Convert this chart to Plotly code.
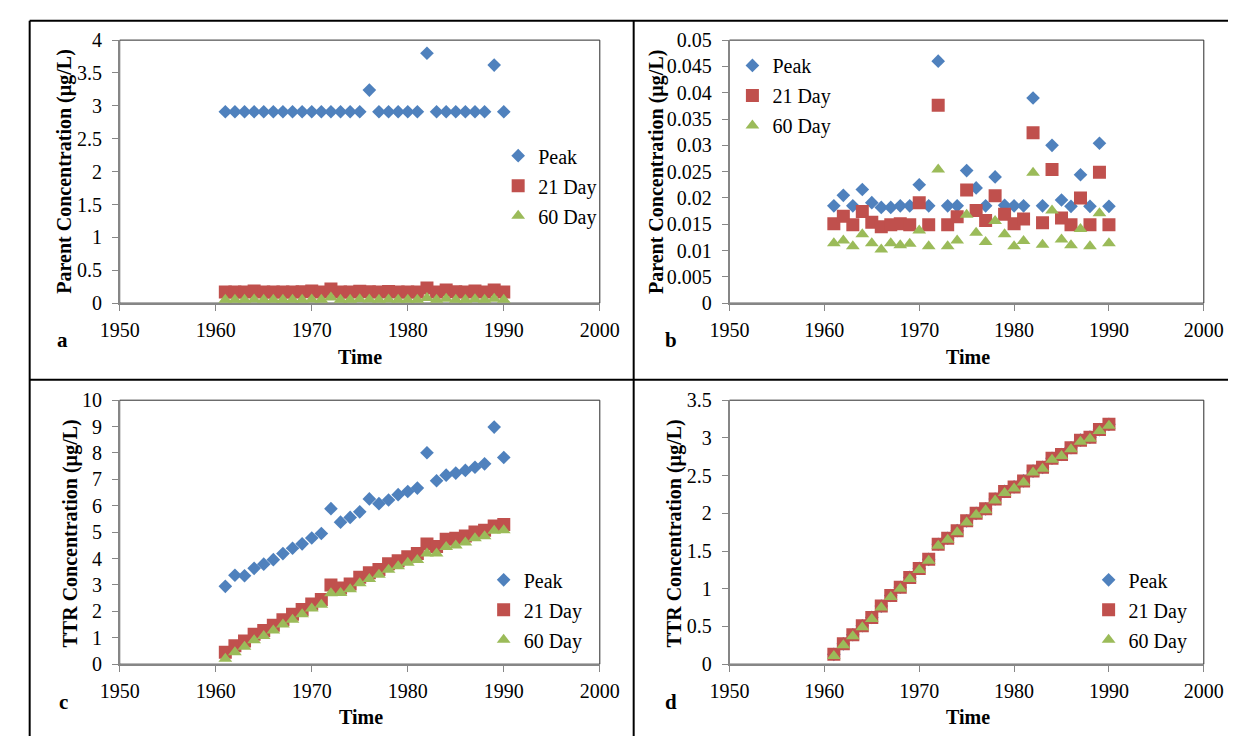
import plotly.graph_objects as go

# ---------------- data ----------------
years = list(range(1961, 1991))

# panel a: parent concentration (ug/L)
a_peak = [2.91, 2.91, 2.91, 2.91, 2.91, 2.91, 2.91, 2.91, 2.91, 2.91,
          2.91, 2.91, 2.91, 2.91, 2.91, 3.24, 2.91, 2.91, 2.91, 2.91,
          2.91, 3.80, 2.91, 2.91, 2.91, 2.91, 2.91, 2.91, 3.62, 2.91]
a_21 = [0.17, 0.17, 0.17, 0.185, 0.17, 0.17, 0.17, 0.17, 0.175, 0.185,
        0.17, 0.215, 0.17, 0.17, 0.18, 0.175, 0.17, 0.178, 0.17, 0.17,
        0.17, 0.23, 0.17, 0.20, 0.175, 0.17, 0.185, 0.17, 0.20, 0.17]
a_60 = [0.05, 0.05, 0.05, 0.055, 0.05, 0.05, 0.05, 0.05, 0.05, 0.055,
        0.05, 0.085, 0.05, 0.05, 0.06, 0.055, 0.05, 0.055, 0.05, 0.05,
        0.05, 0.08, 0.05, 0.065, 0.05, 0.05, 0.058, 0.05, 0.065, 0.05]

# panel b: parent concentration (ug/L)
b_peak = [0.0185, 0.0205, 0.0185, 0.0216, 0.0191, 0.0182, 0.0182, 0.0185, 0.0185, 0.0225,
          0.0185, 0.0460, 0.0185, 0.0185, 0.0252, 0.0219, 0.0185, 0.0240, 0.0186, 0.0185,
          0.0185, 0.0390, 0.0185, 0.0300, 0.0196, 0.0184, 0.0244, 0.0184, 0.0304, 0.0184]
b_21 = [0.0151, 0.0165, 0.0149, 0.0174, 0.0154, 0.0145, 0.0149, 0.0151, 0.0149, 0.0191,
        0.0149, 0.0376, 0.0149, 0.0164, 0.0215, 0.0176, 0.0157, 0.0204, 0.0169, 0.0151,
        0.0160, 0.0324, 0.0153, 0.0254, 0.0162, 0.0149, 0.0200, 0.0149, 0.0249, 0.0149]
b_60 = [0.0114, 0.0119, 0.0108, 0.0131, 0.0114, 0.0102, 0.0114, 0.0110, 0.0113, 0.0138,
        0.0108, 0.0254, 0.0108, 0.0119, 0.0168, 0.0134, 0.0116, 0.0156, 0.0131, 0.0108,
        0.0118, 0.0248, 0.0111, 0.0176, 0.0121, 0.0110, 0.0141, 0.0108, 0.0171, 0.0114]

# panel c: TTR concentration (ug/L)
c_peak = [2.95, 3.37, 3.35, 3.63, 3.79, 3.96, 4.19, 4.39, 4.56, 4.78,
          4.95, 5.89, 5.38, 5.56, 5.77, 6.26, 6.08, 6.22, 6.42, 6.54,
          6.67, 8.01, 6.95, 7.16, 7.24, 7.34, 7.46, 7.59, 8.98, 7.83]
c_21 = [0.45, 0.70, 0.88, 1.13, 1.28, 1.47, 1.68, 1.89, 2.07, 2.28,
        2.45, 3.00, 2.89, 3.04, 3.29, 3.46, 3.59, 3.80, 3.92, 4.07,
        4.19, 4.55, 4.46, 4.73, 4.77, 4.86, 5.01, 5.07, 5.23, 5.29]
c_60 = [0.21, 0.45, 0.66, 0.91, 1.07, 1.28, 1.50, 1.68, 1.89, 2.11,
        2.25, 2.69, 2.70, 2.84, 3.07, 3.23, 3.39, 3.58, 3.71, 3.84,
        3.95, 4.19, 4.19, 4.44, 4.50, 4.61, 4.77, 4.85, 5.05, 5.07]

# panel d: TTR concentration (ug/L)
d_peak = [0.13, 0.27, 0.39, 0.51, 0.62, 0.77, 0.91, 1.02, 1.15, 1.27,
          1.39, 1.59, 1.67, 1.77, 1.90, 2.00, 2.06, 2.19, 2.29, 2.35,
          2.43, 2.56, 2.61, 2.73, 2.78, 2.87, 2.97, 3.01, 3.11, 3.18]
d_21 = [0.13, 0.27, 0.39, 0.51, 0.62, 0.77, 0.91, 1.02, 1.15, 1.27,
        1.39, 1.59, 1.67, 1.77, 1.90, 2.00, 2.06, 2.19, 2.29, 2.35,
        2.43, 2.56, 2.61, 2.73, 2.78, 2.87, 2.97, 3.01, 3.11, 3.18]
d_60 = [0.11, 0.25, 0.37, 0.49, 0.60, 0.75, 0.89, 1.00, 1.13, 1.25,
        1.37, 1.57, 1.65, 1.75, 1.88, 1.98, 2.04, 2.17, 2.27, 2.33,
        2.41, 2.54, 2.59, 2.71, 2.76, 2.85, 2.95, 2.99, 3.09, 3.16]

series_names = ["Peak", "21 Day", "60 Day"]
panel_letters = ["a", "b", "c", "d"]
y_titles = ["Parent Concentration (µg/L)", "Parent Concentration (µg/L)",
            "TTR Concentration (µg/L)", "TTR Concentration (µg/L)"]
x_title = "Time"
x_range = [1950, 2000]
y_ranges = [[0, 4], [0, 0.05], [0, 10], [0, 3.5]]
y_dticks = [0.5, 0.005, 1, 0.5]

# ---------------- layout geometry (pixels) ----------------
W, H = 1248, 747
FONT = "Liberation Serif, Times New Roman, serif"
COLORS = ["#4F81BD", "#C0504D", "#9BBB59"]
SYMBOLS = ["diamond", "square", "triangle-up"]
SIZES = [10.5, 13, 12]


def fx(px):
    return px / W


def fy(py):
    return 1 - py / H


panels = [
    dict(data=[a_peak, a_21, a_60], xd=(103, 599), yd=(30, 301),
         leg=(494, 129), lab=(44, 339), xt=(351, 356), yt=(46, 166)),
    dict(data=[b_peak, b_21, b_60], xd=(733, 1223), yd=(30, 301),
         leg=(736, 36), lab=(673, 339), xt=(979, 356), yt=(657, 166)),
    dict(data=[c_peak, c_21, c_60], xd=(103, 599), yd=(401, 673),
         leg=(479, 566), lab=(45, 712), xt=(352, 727), yt=(52, 538)),
    dict(data=[d_peak, d_21, d_60], xd=(733, 1223), yd=(401, 673),
         leg=(1104, 566), lab=(673, 712), xt=(979, 727), yt=(676, 538)),
]

fig = go.Figure()
annotations = []
shapes = []
layout = {}

for i, p in enumerate(panels):
    n = "" if i == 0 else str(i + 1)
    xa, ya = "x" + n, "y" + n
    leg = "legend" + n
    for j, name in enumerate(series_names):
        fig.add_trace(go.Scatter(
            x=years, y=p["data"][j], mode="markers", name=name,
            xaxis=xa, yaxis=ya, legend=leg,
            legendgroup=f"{panel_letters[i]}{j}",
            marker=dict(symbol=SYMBOLS[j], size=SIZES[j], color=COLORS[j],
                        line=dict(width=0)),
        ))
    axis_common = dict(
        showline=True, linecolor="#868686", linewidth=1.5,
        ticks="outside", ticklen=6, tickwidth=1.2, tickcolor="#868686",
        showgrid=False, zeroline=False,
        tickfont=dict(family=FONT, size=20, color="black"),
        fixedrange=True,
    )
    layout["xaxis" + n] = dict(
        axis_common, domain=[fx(p["xd"][0]), fx(p["xd"][1])], anchor=ya,
        range=x_range, dtick=10, tick0=1950, ticklabelstandoff=2,
    )
    layout["yaxis" + n] = dict(
        axis_common, domain=[fy(p["yd"][1]), fy(p["yd"][0])], anchor=xa,
        range=y_ranges[i], dtick=y_dticks[i], tick0=0, ticklabelstandoff=6,
    )
    layout[leg] = dict(
        x=fx(p["leg"][0]), y=fy(p["leg"][1]), xanchor="left", yanchor="top",
        bgcolor="rgba(0,0,0,0)", borderwidth=0,
        font=dict(family=FONT, size=20, color="black"),
        traceorder="grouped", tracegroupgap=1, itemsizing="trace",
    )
    # plot-area box (top/right edges)
    shapes.append(dict(type="rect", xref=xa + " domain", yref=ya + " domain",
                       x0=0, x1=1, y0=0, y1=1, layer="below",
                       line=dict(color="#2a2a2a", width=1)))
    # panel letter
    annotations.append(dict(text=panel_letters[i], x=fx(p["lab"][0]), y=fy(p["lab"][1]),
                            xref="paper", yref="paper", showarrow=False,
                            xanchor="center", yanchor="middle",
                            font=dict(family=FONT, size=21, color="black", weight="bold")))
    # axis titles
    annotations.append(dict(text=x_title, x=fx(p["xt"][0]), y=fy(p["xt"][1]),
                            xref="paper", yref="paper", showarrow=False,
                            xanchor="center", yanchor="middle",
                            font=dict(family=FONT, size=20, color="black", weight="bold")))
    annotations.append(dict(text=y_titles[i], x=fx(p["yt"][0]), y=fy(p["yt"][1]),
                            xref="paper", yref="paper", showarrow=False, textangle=-90,
                            xanchor="center", yanchor="middle",
                            font=dict(family=FONT, size=20, color="black", weight="bold")))

# table borders around the four panels
border = dict(color="black", width=2)
for (x0, y0, x1, y1) in [(10, 10, 1248, 10), (10, 10, 10, 747),
                         (634, 10, 634, 747), (10, 380, 1248, 380)]:
    shapes.append(dict(type="line", xref="paper", yref="paper",
                       x0=fx(x0), y0=fy(y0), x1=fx(x1), y1=fy(y1), line=border))

fig.update_layout(
    width=W, height=H, margin=dict(l=0, r=0, t=0, b=0),
    paper_bgcolor="white", plot_bgcolor="white",
    showlegend=True, annotations=annotations, shapes=shapes,
    **layout,
)

fig.write_html("out.html", config={"displayModeBar": False})
